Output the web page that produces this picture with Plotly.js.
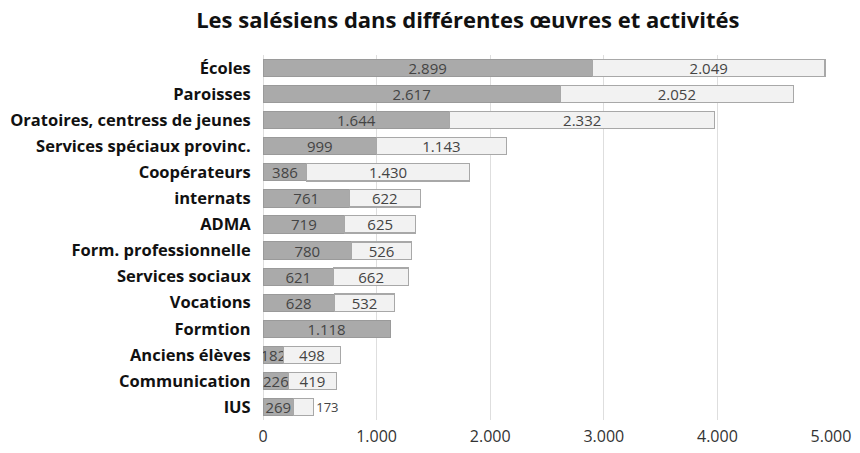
<!DOCTYPE html>
<html><head><meta charset="utf-8">
<script src="https://cdn.plot.ly/plotly-3.0.1.min.js"></script>
<style>body{margin:0;background:#fff}#c{width:860px;height:453px}</style>
</head><body><div id="c"></div>
<script>
const categories = ["Écoles","Paroisses","Oratoires, centress de jeunes","Services spéciaux provinc.","Coopérateurs","internats","ADMA","Form. professionnelle","Services sociaux","Vocations","Formtion","Anciens élèves","Communication","IUS"];
const seriesA = [2899,2617,1644,999,386,761,719,780,621,628,1118,182,226,269];
const seriesB = [2049,2052,2332,1143,1430,622,625,526,662,532,null,498,419,173];
const tickValues = [0,1000,2000,3000,4000,5000];

const font = "Open Sans, Lato, sans-serif";
const traceA = {
  type:'bar', orientation:'h', y:categories, x:seriesA, name:'A',
  marker:{color:'#aaaaaa', line:{color:'#9a9a9a', width:1}},
  width:0.66,
  texttemplate:'%{x:,}', textposition:'inside', insidetextanchor:'middle',
  constraintext:'none', textangle:0,
  insidetextfont:{family:font, size:15, color:'#444'}, hoverinfo:'skip'
};
const traceB = {
  type:'bar', orientation:'h', y:categories, x:seriesB, name:'B',
  marker:{color:'#f2f2f2', line:{color:'#a8a8a8', width:1.2}},
  width:0.66,
  texttemplate:'%{x:,}',
  textposition: seriesB.map(v => (v !== null && v < 200) ? 'outside' : 'inside'),
  insidetextanchor:'middle', constraintext:'none', textangle:0, cliponaxis:false,
  insidetextfont:{family:font, size:15, color:'#444'},
  outsidetextfont:{family:font, size:13, color:'#444'}, hoverinfo:'skip'
};
const layout = {
  width:860, height:453, barmode:'stack', showlegend:false,
  separators:',.',
  paper_bgcolor:'#fff', plot_bgcolor:'#fff',
  margin:{l:263, r:29, t:55, b:33},
  title:{text:'<b>Les salésiens dans différentes œuvres et activités</b>', x:0.544, xanchor:'center', y:0.955, yanchor:'middle',
         font:{family:font, size:22, color:'#111'}},
  xaxis:{range:[0,5000], tickvals:tickValues, tickformat:',', showgrid:true, gridcolor:'#dedede', gridwidth:1,
         zeroline:true, zerolinecolor:'#dedede', showline:false, ticks:'outside', ticklen:2, tickcolor:'rgba(0,0,0,0)',
         tickfont:{family:font, size:16, color:'#333'}},
  yaxis:{type:'category', autorange:'reversed', showgrid:false, ticks:'outside', ticklen:8, tickcolor:'rgba(0,0,0,0)',
         tickfont:{family:font, size:16.5, color:'#111', weight:'bold'}}
};
Plotly.newPlot('c',[traceA,traceB],layout,{staticPlot:true});
</script></body></html>
